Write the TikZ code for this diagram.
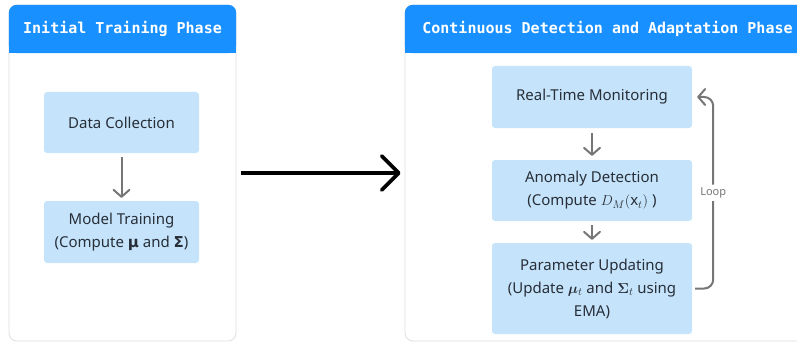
\documentclass[tikz,border=0pt]{standalone}
\usepackage{amsmath,bm}
\usepackage{fontspec}
\setmainfont{Noto Sans}
\newfontfamily\headfont{DejaVu Sans Mono}
\newfontfamily\greekfont{DejaVu Sans}
\definecolor{headblue}{RGB}{24,144,255}
\definecolor{boxblue}{RGB}{197,228,251}
\definecolor{edgegray}{RGB}{222,222,222}
\definecolor{flowgray}{RGB}{118,118,118}
\definecolor{textdark}{RGB}{40,46,56}
\usetikzlibrary{arrows.meta, positioning, backgrounds}
\tikzset{
  panel/.style={rectangle, rounded corners=8pt,
    draw=edgegray, line width=0.8pt,
    minimum height=336, inner sep=0pt},
  header/.style={rectangle, minimum height=48, inner sep=0pt,
    text=white, font=\headfont\bfseries\fontsize{15}{18}\selectfont},
  stepbox/.style={rectangle, rounded corners=3pt,
    fill=boxblue, inner sep=0pt,
    text=textdark, align=center, font=\fontsize{15}{23}\selectfont},
  flow/.style={-{Straight Barb[round, length=7pt, width=16pt]},
    line width=2pt, color=flowgray},
  bigarrow/.style={-{Straight Barb[round, length=17pt, width=34pt]},
    line width=3.8pt, color=black},
}

\begin{document}
\begin{tikzpicture}[x=1pt, y=-1pt]
  \useasboundingbox (0,0) rectangle (797,342);

  % phase headers
  \node[header, minimum width=227] (lefthead) at (122.5,29)
    {Initial Training Phase};
  \node[header, minimum width=405] (righthead) at (607.5,29)
    {Continuous Detection and Adaptation Phase};

  \begin{scope}[on background layer]
    \node[panel, minimum width=227] (leftpanel) at (122.5,173) {};
    \node[panel, minimum width=405] (rightpanel) at (607.5,173) {};
    \fill[headblue, rounded corners=8pt] (lefthead.south west) rectangle (lefthead.north east);
    \fill[headblue] (lefthead.west) rectangle (lefthead.south east);
    \fill[headblue, rounded corners=8pt] (righthead.south west) rectangle (righthead.north east);
    \fill[headblue] (righthead.west) rectangle (righthead.south east);
  \end{scope}

  % initial training
  \node[stepbox, minimum width=155, minimum height=61] (collect) at (121.5,122.5)
    {Data Collection};
  \node[stepbox, minimum width=155, minimum height=62] (train) at (121.5,232)
    {Model Training\\(Compute {\greekfont\bfseries μ} and {\greekfont\bfseries Σ})};

  % detection and adaptation
  \node[stepbox, minimum width=200, minimum height=62] (monitor) at (592,97)
    {Real-Time Monitoring};
  \node[stepbox, minimum width=200, minimum height=61] (detect) at (592,190.5)
    {Anomaly Detection\\(Compute $D_M(\mathbf{x}_t)$ )};
  \node[stepbox, minimum width=200, minimum height=91] (update) at (592,288.5)
    {Parameter Updating\\(Update $\bm{\mu}_t$ and $\bm{\Sigma}_t$ using\\EMA)};

  \draw[flow, shorten <=4pt, shorten >=3pt] (collect) -- (train);
  \draw[flow, shorten <=5pt, shorten >=4pt] (monitor) -- (detect);
  \draw[flow, shorten <=4pt, shorten >=3pt] (detect) -- (update);
  \draw[flow, rounded corners=9pt] ([xshift=3pt]update.east) -- ++(18,0)
    |- node[pos=0.25, fill=white, text=flowgray, inner sep=3pt,
      font=\fontsize{11}{13}\selectfont] (looplabel) {Loop}
    ([xshift=5pt]monitor.east);

  \draw[bigarrow, shorten <=5pt, shorten >=4pt] (leftpanel) -- (rightpanel);
\end{tikzpicture}
\end{document}
